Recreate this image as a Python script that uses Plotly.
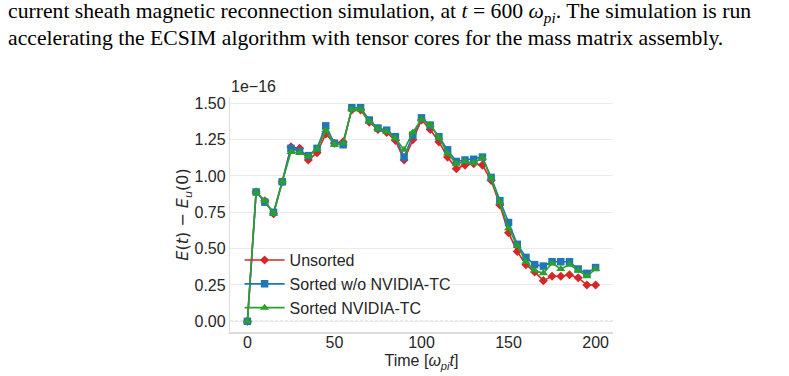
import plotly.graph_objects as go

# ---- data (values in units of 1e-16) ----
time = [0, 5, 10, 15, 20, 25, 30, 35, 40, 45, 50, 55, 60, 65, 70, 75, 80, 85, 90, 95,
        100, 105, 110, 115, 120, 125, 130, 135, 140, 145, 150, 155, 160, 165, 170, 175,
        180, 185, 190, 195, 200]
unsorted = [0, 0.89, 0.83, 0.74, 0.96, 1.20, 1.19, 1.11, 1.16, 1.29, 1.225, 1.235, 1.455,
            1.455, 1.37, 1.32, 1.30, 1.245, 1.11, 1.25, 1.385, 1.32, 1.235, 1.13, 1.05,
            1.075, 1.085, 1.075, 0.97, 0.80, 0.61, 0.48, 0.39, 0.34, 0.28, 0.31, 0.31,
            0.32, 0.30, 0.25, 0.25]
sorted_no_tc = [0, 0.89, 0.82, 0.75, 0.96, 1.19, 1.17, 1.14, 1.19, 1.345, 1.225, 1.215,
                1.47, 1.47, 1.385, 1.33, 1.315, 1.27, 1.13, 1.28, 1.40, 1.35, 1.27, 1.18,
                1.10, 1.11, 1.115, 1.13, 0.99, 0.83, 0.68, 0.53, 0.44, 0.39, 0.38, 0.41,
                0.41, 0.41, 0.36, 0.33, 0.37]
sorted_tc = [0, 0.89, 0.83, 0.74, 0.96, 1.165, 1.16, 1.135, 1.185, 1.315, 1.215, 1.225,
             1.46, 1.46, 1.375, 1.325, 1.305, 1.26, 1.18, 1.30, 1.39, 1.35, 1.265, 1.155,
             1.085, 1.10, 1.09, 1.125, 0.985, 0.82, 0.64, 0.52, 0.41, 0.35, 0.33, 0.40,
             0.36, 0.39, 0.35, 0.31, 0.36]
series_names = ["Unsorted", "Sorted w/o NVIDIA-TC", "Sorted NVIDIA-TC"]
y_ticks = [0.00, 0.25, 0.50, 0.75, 1.00, 1.25, 1.50]
x_ticks = [0, 50, 100, 150, 200]
offset_label = "1e\u221216"
caption_lines = [
    "current sheath magnetic reconnection simulation, at <i>t</i> = 600 <i>\u03c9<sub>pi</sub></i>. The simulation is run",
    "accelerating the ECSIM algorithm with tensor cores for the mass matrix assembly.",
]

W, H = 789, 376
L, R, T, B = 229.5, 613.5, 96.6, 331.7

colors = ["#d62728", "#1f77b4", "#2ca02c"]
symbols = ["diamond", "square", "triangle-up"]
sizes = [7, 7.5, 8]

fig = go.Figure()
for name, ys, c, s, sz in zip(series_names, [unsorted, sorted_no_tc, sorted_tc], colors, symbols, sizes):
    fig.add_trace(go.Scatter(
        x=time, y=ys, name=name, mode="lines+markers",
        line=dict(color=c, width=1.6),
        marker=dict(symbol=s, size=sz, color=c, line=dict(width=0)),
    ))

fig.add_hline(y=0, line=dict(color="#666666", width=0.8, dash="3px,2px"), layer="below")

tickfont = dict(family="Liberation Sans, Arial, sans-serif", size=16, color="#262626")
fig.update_layout(
    width=W, height=H,
    margin=dict(l=L, r=W - R, t=T, b=H - B, pad=0, autoexpand=False),
    paper_bgcolor="white", plot_bgcolor="white",
    font=tickfont,
    showlegend=True,
    legend=dict(x=0.025, y=0.378, xanchor="left", yanchor="top",
                bgcolor="rgba(0,0,0,0)", font=dict(size=16, color="#262626"),
                itemwidth=40, tracegroupgap=0),
    xaxis=dict(range=[-10, 210], tickvals=x_ticks, showgrid=False, zeroline=False,
               showline=True, linecolor="#dcdcdc", linewidth=2, ticks="", ticklen=0,
               tickfont=tickfont, automargin=False, ticklabelstandoff=-5,
               title=dict(text="Time [<i>\u03c9<sub>pi</sub>t</i>]", font=dict(size=16, color="#262626"), standoff=5)),
    yaxis=dict(range=[-0.0735, 1.5435], tickvals=y_ticks, tickformat=".2f", showgrid=True,
               gridcolor="#ebebeb", gridwidth=1, zeroline=False,
               showline=True, linecolor="#dcdcdc", linewidth=1.3, ticks="", ticklen=0,
               tickfont=tickfont, automargin=False,
               title=dict(text="<i>E</i>(<i>t</i>) \u2212 <i>E<sub>u</sub></i>(0)",
                          font=dict(family="DejaVu Sans, sans-serif", size=16, color="#262626"), standoff=1)),
)

fig.add_annotation(text=offset_label, xref="paper", yref="paper", x=0, y=1,
                   xanchor="left", yanchor="bottom", showarrow=False,
                   font=dict(size=16, color="#262626"), xshift=-1, yshift=0)

for i, line in enumerate(caption_lines):
    fig.add_annotation(text=line, xref="paper", yref="paper",
                       x=(5 - L) / (R - L), y=1 + (T - (12.5 + 25 * i)) / (B - T),
                       xanchor="left", yanchor="middle", showarrow=False,
                       font=dict(family="Liberation Serif, Times New Roman, serif", size=21.7, color="black"))

fig.write_html("out.html")
